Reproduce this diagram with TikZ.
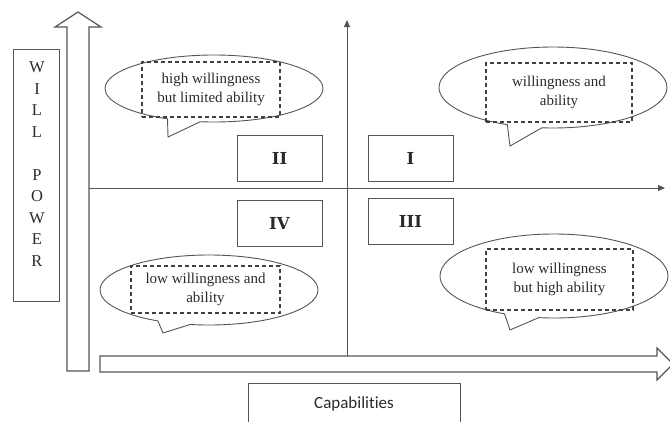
\documentclass[tikz,border=0pt]{standalone}
\usepackage{fontspec}
\setmainfont{Liberation Serif}
\newfontfamily\capfont[Ligatures=NoCommon]{Carlito}
\newfontfamily\numfont{DejaVu Serif}
\usetikzlibrary{shapes.callouts,arrows.meta}
\definecolor{linegray}{HTML}{555555}
\definecolor{textgray}{HTML}{2A2A2A}

\begin{document}
\begin{tikzpicture}[x=1pt,y=-1pt,
  outline/.style={draw=linegray,line width=0.9pt},
  bubble/.style={ellipse callout,draw=linegray,line width=0.9pt,inner sep=0pt,callout pointer arc=18},
  dashbox/.style={draw=black!75,dash pattern=on 4pt off 3pt,line width=1.1pt,inner sep=0pt,
    align=center,text=textgray,font=\fontsize{15}{18.5}\selectfont},
  quad/.style={outline,minimum width=85pt,minimum height=46pt,text=textgray,
    font=\numfont\bfseries\fontsize{16.5}{18}\selectfont}]
\useasboundingbox (0,0) rectangle (670,421);
\clip (0,0) rectangle (670,421);

% axes
\coordinate (ytop) at (347,20);
\coordinate (ybot) at (347,356);
\coordinate (xleft) at (89,188);
\coordinate (xright) at (665,188);
\draw[linegray,line width=1pt,-{Triangle[length=7pt,width=6pt]}] (ybot) -- (ytop);
\draw[linegray,line width=1pt,-{Triangle[length=7pt,width=6pt]}] (xleft) -- (xright);

% big hollow arrows
\draw[outline,line width=1.2pt] (67,371) -- (67,27) -- (55,27) -- (78,12) -- (101,27) -- (89,27) -- (89,371) -- cycle;
\draw[outline,line width=1.2pt] (100,356) -- (657,356) -- (657,348) -- (673,364) -- (657,380) -- (657,372) -- (100,372) -- cycle;

% axis labels
\node[outline,minimum width=46pt,minimum height=252pt] (willbox) at (36,175) {};
\node[text=textgray,align=center,font=\fontsize{16.5}{21.5}\selectfont] (willtext) at (37,164)
  {W\\I\\L\\L\\[21.5pt]P\\O\\W\\E\\R};
\node[outline,minimum width=212pt,minimum height=42pt,text=textgray,
  font=\capfont\fontsize{17}{20}\selectfont] (capbox) at (354,404) {Capabilities};

% quadrants
\node[quad] (quadII) at (279.5,158) {II};
\node[quad] (quadI) at (410.5,158) {I};
\node[quad] (quadIV) at (279.5,223) {IV};
\node[quad] (quadIII) at (410.5,221.5) {III};

% speech bubbles
\node[bubble,minimum width=218pt,minimum height=67pt,callout absolute pointer={(168,137)}] (bubbleII) at (214,88.5) {};
\node[bubble,minimum width=228pt,minimum height=81pt,callout absolute pointer={(510,146)}] (bubbleI) at (553,87.5) {};
\node[bubble,minimum width=218pt,minimum height=70pt,callout absolute pointer={(163,333)}] (bubbleIV) at (209,290) {};
\node[bubble,minimum width=228pt,minimum height=84pt,callout absolute pointer={(510,330)}] (bubbleIII) at (554,276) {};

\node[dashbox,minimum width=138pt,minimum height=55pt] (textII) at (211,89.5) {high willingness\\but limited ability};
\node[dashbox,minimum width=146pt,minimum height=59pt] (textI) at (559,92.5) {willingness and\\ability};
\node[dashbox,minimum width=149pt,minimum height=47pt] (textIV) at (205.5,289.5) {low willingness and\\ability};
\node[dashbox,minimum width=147pt,minimum height=61pt] (textIII) at (559.5,279.5) {low willingness\\but high ability};
\end{tikzpicture}
\end{document}
